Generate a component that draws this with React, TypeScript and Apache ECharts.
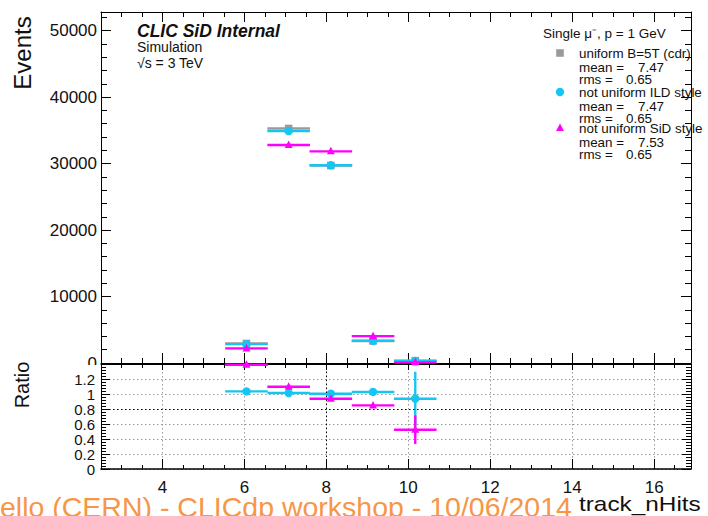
import React, { useEffect, useRef } from 'react';
import * as echarts from 'echarts';

// ---------- data ----------
const binCenters = [6.05, 7.08, 8.11, 9.14, 10.17];
const binHalfWidth = 0.52;
const uniformB5T = [2940, 35280, 29700, 3320, 350];
const ildStyle = [2840, 34880, 29740, 3340, 300];
const sidStyle = [2200, 32800, 31840, 4040, 100];
const ratioILD = [1.035, 1.013, 1.004, 1.027, 0.937];
const ratioILDErr = [0.01, 0.01, 0.01, 0.015, 0.36];
const ratioSiD = [1.39, 1.097, 0.937, 0.848, 0.524];
const ratioSiDErr = [0.01, 0.01, 0.01, 0.015, 0.19];

const xMajorTicks = [4, 6, 8, 10, 12, 14, 16];
const eventsTicks = [0, 10000, 20000, 30000, 40000, 50000];
const ratioTicks = [0, 0.2, 0.4, 0.6, 0.8, 1, 1.2];

const legendNames = ['uniform B=5T (cdr)', 'not uniform ILD style', 'not uniform SiD style'];
const legendMeans = ['7.47', '7.47', '7.53'];
const legendRms = ['0.65', '0.65', '0.65'];

const GRAY = '#9a9a9a';
const CYAN = '#16c6f2';
const MAGENTA = '#ff00ff';
const FONT = 'Liberation Sans, Arial, sans-serif';

const X_MIN = 2.5;
const X_MAX = 16.9;
const EV_MAX = 52800;
const R_MAX = 1.4;

function steps(start: number, stop: number, step: number, skip: number[]) {
  const out: number[] = [];
  for (let v = start; v <= stop + 1e-9; v += step) {
    const r = Math.round(v * 1000) / 1000;
    if (!skip.some((s) => Math.abs(s - r) < 1e-6)) out.push(r);
  }
  return out;
}

const xMinorTicks = steps(3, 16.5, 0.5, xMajorTicks);
const eventsMinorTicks = steps(2000, 52000, 2000, eventsTicks);
const ratioMinorTicks = steps(0.04, 1.36, 0.04, ratioTicks);

function axis(kind: 'x' | 'y', grid: number, position: string, min: number, max: number, ticks: number[], len: number, opts: any = {}) {
  return {
    type: 'value',
    gridIndex: grid,
    position,
    min,
    max,
    axisLine: { show: !!opts.line, onZero: false, lineStyle: { color: '#000', width: opts.lineWidth || 1 } },
    axisTick: { show: true, inside: true, length: len, customValues: ticks, lineStyle: { color: '#000', width: 1 } },
    axisLabel: opts.labels
      ? {
          show: true,
          customValues: opts.labels,
          formatter: (v: number) => String(v),
          color: '#111',
          fontFamily: FONT,
          fontSize: opts.fontSize || 16,
          margin: opts.margin ?? 6,
        }
      : { show: false },
    splitLine: opts.split
      ? { show: true, lineStyle: { color: '#9a9a9a', type: [1.5, 2.5], width: 1 } }
      : { show: false },
    minorTick: { show: false },
  };
}

function marker(shape: string, p: number[], color: string) {
  if (shape === 'rect') {
    return { type: 'rect', shape: { x: p[0] - 3.8, y: p[1] - 3.8, width: 7.6, height: 7.6 }, style: { fill: color } };
  }
  if (shape === 'circle') {
    return { type: 'circle', shape: { cx: p[0], cy: p[1], r: 4.2 }, style: { fill: color } };
  }
  return {
    type: 'polygon',
    shape: { points: [[p[0], p[1] - 4.5], [p[0] + 4, p[1] + 3], [p[0] - 4, p[1] + 3]] },
    style: { fill: color },
  };
}

function histSeries(name: string, values: number[], errs: number[] | null, color: string, shape: string, xi: number, yi: number, z: number) {
  return {
    type: 'custom',
    name,
    xAxisIndex: xi,
    yAxisIndex: yi,
    z,
    silent: true,
    data: binCenters.map((c, i) => [c, values[i], errs ? errs[i] : 0]),
    renderItem: (_params: any, api: any) => {
      const x = api.value(0);
      const y = api.value(1);
      const e = api.value(2);
      const pL = api.coord([x - binHalfWidth, y]);
      const pR = api.coord([x + binHalfWidth, y]);
      const p = api.coord([x, y]);
      const pT = api.coord([x, y + e]);
      const pB = api.coord([x, y - e]);
      return {
        type: 'group',
        children: [
          { type: 'line', shape: { x1: pL[0], y1: pL[1], x2: pR[0], y2: pR[1] }, style: { stroke: color, lineWidth: 2.4 } },
          { type: 'line', shape: { x1: p[0], y1: pT[1], x2: p[0], y2: pB[1] }, style: { stroke: color, lineWidth: 2.4 } },
          marker(shape, p, color),
        ],
      };
    },
  };
}

function txt(x: number, y: number, text: string, size: number, extra: any = {}) {
  return {
    type: 'text',
    x,
    y,
    z: 50,
    silent: true,
    ...(extra.rotation ? { rotation: extra.rotation } : {}),
    ...(extra.scaleX ? { scaleX: extra.scaleX } : {}),
    style: {
      text,
      fill: extra.fill || '#111',
      fontFamily: extra.family || FONT,
      fontSize: size,
      fontWeight: extra.weight || 'normal',
      fontStyle: extra.style || 'normal',
      align: extra.align || 'left',
      verticalAlign: extra.va || 'middle',
      ...(extra.lineHeight ? { lineHeight: extra.lineHeight } : {}),
    },
  };
}

export default function App() {
  const ref = useRef<HTMLDivElement>(null);

  useEffect(() => {
    if (!ref.current) return;
    const chart = echarts.init(ref.current, null, { renderer: 'svg' });

    const legendGraphics: any[] = [];
    const legendRowY = [53, 92, 128];
    const markerShapes: any[] = [
      { type: 'rect', shape: { x: 556.2, y: 49.2, width: 7.6, height: 7.6 }, style: { fill: GRAY } },
      { type: 'circle', shape: { cx: 560, cy: 92, r: 4.2 }, style: { fill: CYAN } },
      { type: 'polygon', shape: { points: [[560, 123.5], [564, 131], [556, 131]] }, style: { fill: MAGENTA } },
    ];
    const lg = { lineHeight: 12 };
    legendNames.forEach((n, i) => {
      const y0 = legendRowY[i];
      legendGraphics.push({ ...markerShapes[i], z: 50 });
      legendGraphics.push(txt(579, y0, n, 13.4, lg));
      legendGraphics.push(txt(579, y0 + 14, 'mean =', 13.4, lg));
      legendGraphics.push(txt(638, y0 + 14, legendMeans[i], 13.4, lg));
      legendGraphics.push(txt(579, y0 + 26, 'rms =', 13.4, lg));
      legendGraphics.push(txt(626, y0 + 26, legendRms[i], 13.4, lg));
    });

    const option: any = {
      animation: false,
      backgroundColor: '#fff',
      grid: [
        { left: 101, top: 12, width: 590, height: 351 },
        { left: 101, top: 364, width: 590, height: 105 },
      ],
      xAxis: [
        axis('x', 0, 'bottom', X_MIN, X_MAX, xMajorTicks, 10, { line: true }),
        axis('x', 0, 'bottom', X_MIN, X_MAX, xMinorTicks, 5),
        axis('x', 0, 'top', X_MIN, X_MAX, xMajorTicks, 10, { line: true }),
        axis('x', 0, 'top', X_MIN, X_MAX, xMinorTicks, 5),
        axis('x', 1, 'bottom', X_MIN, X_MAX, xMajorTicks, 10, { line: true, lineWidth: 1.5, labels: xMajorTicks, fontSize: 17, margin: 10, split: true }),
        axis('x', 1, 'bottom', X_MIN, X_MAX, xMinorTicks, 4),
        axis('x', 1, 'top', X_MIN, X_MAX, xMajorTicks, 6, { line: true }),
        axis('x', 1, 'top', X_MIN, X_MAX, xMinorTicks, 4),
      ],
      yAxis: [
        axis('y', 0, 'left', 0, EV_MAX, eventsTicks, 10, { line: true, labels: eventsTicks, fontSize: 17, margin: 4 }),
        axis('y', 0, 'left', 0, EV_MAX, eventsMinorTicks, 6),
        axis('y', 0, 'right', 0, EV_MAX, eventsTicks, 10, { line: true }),
        axis('y', 0, 'right', 0, EV_MAX, eventsMinorTicks, 6),
        axis('y', 1, 'left', 0, R_MAX, ratioTicks, 9, { line: true, labels: ratioTicks, fontSize: 15, margin: 6, split: true }),
        axis('y', 1, 'left', 0, R_MAX, ratioMinorTicks, 5),
        axis('y', 1, 'right', 0, R_MAX, ratioTicks, 9, { line: true }),
        axis('y', 1, 'right', 0, R_MAX, ratioMinorTicks, 5),
      ],
      series: [
        histSeries('uniform B=5T (cdr)', uniformB5T, null, GRAY, 'rect', 0, 0, 2),
        histSeries('not uniform ILD style', ildStyle, null, CYAN, 'circle', 0, 0, 3),
        histSeries('not uniform SiD style', sidStyle, null, MAGENTA, 'triangle', 0, 0, 4),
        {
          ...histSeries('ratio ILD', ratioILD, ratioILDErr, CYAN, 'circle', 4, 4, 3),
          markLine: {
            silent: true,
            symbol: 'none',
            label: { show: false },
            lineStyle: { color: '#000', type: [1.5, 2.5], width: 1 },
            data: [{ xAxis: 8 }, { yAxis: 0.8 }],
          },
        },
        histSeries('ratio SiD', ratioSiD, ratioSiDErr, MAGENTA, 'triangle', 4, 4, 4),
      ],
      graphic: [
        { type: 'rect', z: 40, silent: true, shape: { x: 40, y: 365, width: 59, height: 9 }, style: { fill: '#fff' } },
        txt(22, 53, 'Events', 24, { rotation: Math.PI / 2, align: 'center' }),
        txt(22, 385, 'Ratio', 20, { rotation: Math.PI / 2, align: 'center' }),
        txt(137, 31, 'CLIC SiD Internal', 17.5, { weight: 'bold', style: 'italic' }),
        txt(137, 47, 'Simulation', 14),
        txt(137, 63, '√s = 3 TeV', 14),
        txt(543, 33, 'Single μ⁻, p = 1 GeV', 13.5),
        ...legendGraphics,
        txt(579, 504, 'track_nHits', 21, { scaleX: 1.16 }),
        txt(0, 507, 'ello (CERN) - CLICdp workshop - 10/06/2014', 28.5, { fill: '#f79646' }),
      ],
    };

    chart.setOption(option);
    return () => chart.dispose();
  }, []);

  return (
    <div
      ref={ref}
      style={{ position: 'fixed', left: 0, top: 0, width: 708, height: 516, background: '#fff' }}
    />
  );
}
